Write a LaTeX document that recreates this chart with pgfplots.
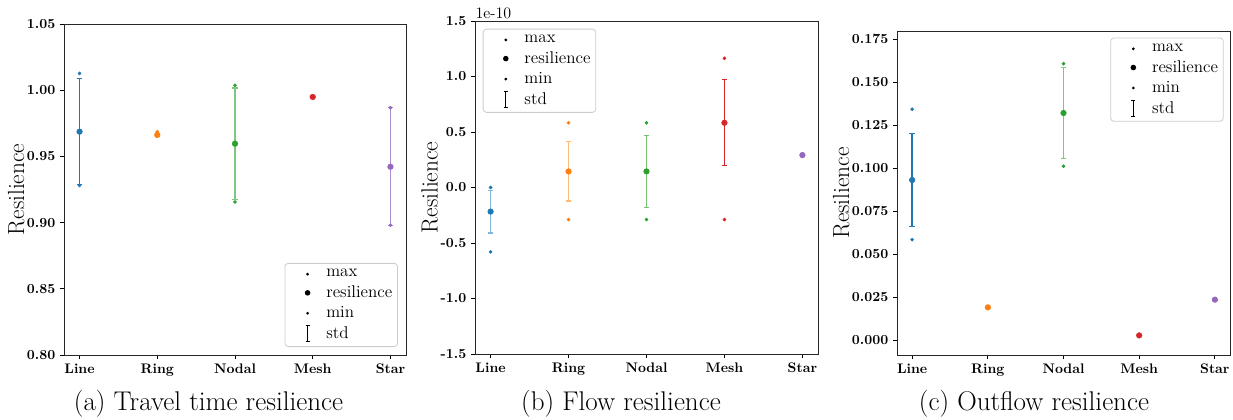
\documentclass[border=0pt]{standalone}
\usepackage{pgfplots}
\pgfplotsset{compat=1.18}
\definecolor{tblue}{HTML}{1F77B4}
\definecolor{torange}{HTML}{FF7F0E}
\definecolor{tgreen}{HTML}{2CA02C}
\definecolor{tred}{HTML}{D62728}
\definecolor{tpurple}{HTML}{9467BD}

% color, x, res, std, max, min, errorbar color
\newcommand{\catpoint}[7]{%
 \addplot[forget plot, #1, only marks, mark=*, mark size=2.1pt,
   error bars/.cd, y dir=both, y explicit,
   error bar style={draw=#7, line width=1.3pt},
   error mark options={draw=#7, rotate=90, mark size=2pt, line width=0.9pt}]
   coordinates {(#2,#3) +- (0,#4)};
 \addplot[forget plot, #1, only marks, mark=*, mark size=1.15pt]
   coordinates {(#2,#5) (#2,#6)};
}

\pgfplotsset{
 resstyle/.style={
   scale only axis,
   xmin=-0.2, xmax=4.2,
   xtick={0,1,2,3,4}, xticklabels={Line,Ring,Nodal,Mesh,Star},
   tick align=outside, xtick pos=bottom, ytick pos=left,
   major tick length=3pt,
   every tick/.style={black, line width=0.6pt},
   axis line style={line width=0.7pt, black!85},
   ticklabel style={font=\fontsize{10.4}{12}\selectfont\bfseries},
   /pgf/number format/assume math mode=true,
   ylabel={Resilience},
   ylabel shift=-5pt,
   ylabel style={font=\fontsize{17.5}{20}\selectfont},
   legend cell align=left,
   legend style={font=\fontsize{12.8}{15}\selectfont, draw=black!20, rounded corners=2.5pt,
     line width=0.6pt, row sep=1.2pt, inner xsep=2pt, inner ysep=2.5pt},
 },
 dotleg/.style={legend image code/.code={\path[draw=none,fill=none] (0,-3pt) rectangle (27pt,3pt); \fill[black,draw=none] (15pt,0) circle (#1);}},
 stdleg/.style={legend image code/.code={\path[draw=none,fill=none] (0,-3pt) rectangle (27pt,3pt);
   \draw[black, line width=0.8pt, sharp corners] (15pt,-6pt)--(15pt,6pt);
   \draw[black, line width=0.6pt] (13.5pt,-6pt)--(16.5pt,-6pt);
   \draw[black, line width=0.6pt] (13.5pt,6pt)--(16.5pt,6pt);}},
}

\newcommand{\legendentries}{%
 \addlegendimage{dotleg=1.15pt}\addlegendentry{max}
 \addlegendimage{dotleg=2.1pt}\addlegendentry{resilience}
 \addlegendimage{dotleg=1.15pt}\addlegendentry{min}
 \addlegendimage{stdleg}\addlegendentry{std}
}

\begin{document}
\begin{tikzpicture}
\useasboundingbox (0pt,0pt) rectangle (924.75pt,314.25pt);

% ---------- (a) ----------
\begin{axis}[resstyle, at={(48pt,48pt)}, anchor=south west,
  width=256.5pt, height=248.25pt,
  ymin=0.8, ymax=1.05, ytick={0.80,0.85,0.90,0.95,1.00,1.05},
  yticklabel style={/pgf/number format/.cd, fixed, precision=2, fixed zerofill},
  legend style={at={(1,0)}, anchor=south east, xshift=-6pt, yshift=6pt}]
 \legendentries
 \catpoint{tblue}{0}{0.9687}{0.040}{1.0127}{0.9281}{tblue}
 \catpoint{torange}{1}{0.9662}{0.001}{0.9687}{0.9655}{torange!60!white}
 \catpoint{tgreen}{2}{0.9596}{0.042}{1.0037}{0.9156}{tgreen!60!white}
 \catpoint{tred}{3}{0.9949}{0.0005}{0.9955}{0.9945}{tred}
 \catpoint{tpurple}{4}{0.9422}{0.0446}{0.9868}{0.8980}{tpurple!75!white}
\end{axis}

% ---------- (b) ----------
\begin{axis}[resstyle, at={(356.25pt,48.75pt)}, anchor=south west,
  width=257.25pt, height=249.75pt,
  ymin=-1.5, ymax=1.5, ytick={-1.5,-1.0,-0.5,0,0.5,1.0,1.5},
  yticklabel style={/pgf/number format/.cd, fixed, precision=1, fixed zerofill},
  legend style={at={(0,1)}, anchor=north west, xshift=5.8pt, yshift=-5.8pt}]
 \legendentries
 \catpoint{tblue}{0}{-0.217}{0.193}{0.0}{-0.58}{tblue!55!white}
 \catpoint{torange}{1}{0.145}{0.267}{0.583}{-0.289}{torange!55!white}
 \catpoint{tgreen}{2}{0.145}{0.327}{0.583}{-0.289}{tgreen!65!white}
 \catpoint{tred}{3}{0.583}{0.388}{1.164}{-0.289}{tred}
 \catpoint{tpurple}{4}{0.292}{0}{0.292}{0.292}{tpurple}
\end{axis}
\node[anchor=base west, font=\fontsize{12}{14}\selectfont, inner sep=0pt] at (356.5pt,300.5pt) {1e-10};

% ---------- (c) ----------
\begin{axis}[resstyle, at={(672.75pt,48pt)}, anchor=south west,
  width=249.75pt, height=243pt,
  ymin=-0.0087, ymax=0.1798, ytick={0,0.025,0.05,0.075,0.1,0.125,0.15,0.175},
  yticklabel style={/pgf/number format/.cd, fixed, precision=3, fixed zerofill},
  legend style={at={(1,1)}, anchor=north east, xshift=-4.7pt, yshift=-5pt}]
 \legendentries
 \catpoint{tblue}{0}{0.0931}{0.0271}{0.1343}{0.0584}{tblue}
 \catpoint{torange}{1}{0.019}{0}{0.019}{0.019}{torange}
 \catpoint{tgreen}{2}{0.1321}{0.0264}{0.1608}{0.1011}{tgreen!60!white}
 \catpoint{tred}{3}{0.0027}{0}{0.0027}{0.0027}{tred}
 \catpoint{tpurple}{4}{0.0235}{0}{0.0235}{0.0235}{tpurple}
\end{axis}

% captions
\node[anchor=base, font=\fontsize{20.3}{24}\selectfont] at (156.4pt,6.2pt) {(a) Travel time resilience};
\node[anchor=base, font=\fontsize{20.3}{24}\selectfont] at (465.75pt,6.2pt) {(b) Flow resilience};
\node[anchor=base, font=\fontsize{20.3}{24}\selectfont] at (775.5pt,6.2pt) {(c) Outflow resilience};
\end{tikzpicture}
\end{document}
